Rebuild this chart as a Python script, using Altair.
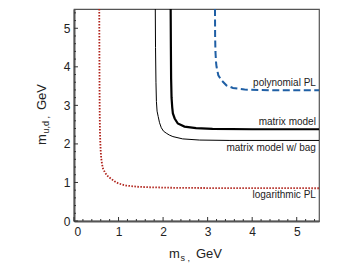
import altair as alt
import pandas as pd

# ---- data ----
log_x = [0.567, 0.570, 0.573, 0.577, 0.582, 0.590, 0.600, 0.612, 0.630, 0.652, 0.690, 0.730, 0.780, 0.840, 0.910, 0.990, 1.080, 1.170, 1.400, 1.700, 2.200, 3.000, 4.000, 5.500]
log_y = [5.50, 4.50, 3.50, 2.80, 2.35, 2.05, 1.80, 1.62, 1.47, 1.36, 1.27, 1.20, 1.14, 1.09, 1.03, 0.98, 0.945, 0.92, 0.89, 0.875, 0.862, 0.855, 0.852, 0.85]

bag_x = [1.825, 1.830, 1.840, 1.850, 1.865, 1.890, 1.920, 1.960, 2.010, 2.070, 2.140, 2.220, 2.440, 2.820, 3.500, 5.500]
bag_y = [5.50, 4.50, 3.60, 3.10, 2.85, 2.71, 2.55, 2.42, 2.33, 2.28, 2.23, 2.19, 2.13, 2.10, 2.09, 2.09]

mm_x = [2.170, 2.175, 2.180, 2.190, 2.205, 2.220, 2.260, 2.330, 2.480, 2.740, 3.110, 4.000, 5.500]
mm_y = [5.50, 4.50, 3.70, 3.20, 2.95, 2.79, 2.66, 2.53, 2.45, 2.41, 2.39, 2.38, 2.38]

poly_x = [3.165, 3.168, 3.175, 3.190, 3.200, 3.240, 3.310, 3.420, 3.570, 3.830, 4.500, 5.500]
poly_y = [5.50, 4.80, 4.40, 4.10, 4.00, 3.78, 3.65, 3.52, 3.45, 3.41, 3.39, 3.39]

label_text = ["polynomial PL", "matrix model", "matrix model w/ bag", "logarithmic PL"]
label_x = [5.43, 5.43, 5.43, 5.43]
label_y = [3.50, 2.48, 1.81, 0.60]

x_major = [0, 1, 2, 3, 4, 5]
x_minor = [0.2, 0.4, 0.6, 0.8, 1.2, 1.4, 1.6, 1.8, 2.2, 2.4, 2.6, 2.8,
           3.2, 3.4, 3.6, 3.8, 4.2, 4.4, 4.6, 4.8, 5.2, 5.4]
y_major = [0, 1, 2, 3, 4, 5]
y_minor = [0.2, 0.4, 0.6, 0.8, 1.2, 1.4, 1.6, 1.8, 2.2, 2.4, 2.6, 2.8,
           3.2, 3.4, 3.6, 3.8, 4.2, 4.4, 4.6, 4.8, 5.2, 5.4]

x_title = ["m", "s ,", "GeV"]
y_title = ["m", "u,d ,", "GeV"]

W, H = 245, 212
FONT = "Liberation Sans"

xs = alt.Scale(domain=[0, 5.5], nice=False, zero=False)
ys = alt.Scale(domain=[0, 5.5], nice=False, zero=False)
xax = alt.Axis(values=x_major, format="d", ticks=False, tickSize=0, labelPadding=5,
               title=None, grid=False, domainWidth=2, domainColor="#555",
               labelFont=FONT, labelFontSize=12, labelColor="#222")
yax = alt.Axis(values=y_major, format="d", ticks=False, tickSize=0, labelPadding=4,
               title=None, grid=False, domainWidth=2, domainColor="#555",
               labelFont=FONT, labelFontSize=12, labelColor="#222")


def curve(xv, yv):
    return pd.DataFrame({"x": xv, "y": yv, "i": list(range(len(xv)))})


def line(df, **kw):
    return alt.Chart(df).mark_line(clip=True, **kw).encode(
        x=alt.X("x:Q", scale=xs, axis=xax),
        y=alt.Y("y:Q", scale=ys, axis=yax),
        order="i:Q",
    )


red = line(curve(log_x, log_y), color="#b0221a", strokeWidth=1.8, strokeDash=[1.5, 1.5])
thin = line(curve(bag_x, bag_y), color="#000000", strokeWidth=1)
thick = line(curve(mm_x, mm_y), color="#000000", strokeWidth=2.2)
blue = line(curve(poly_x, poly_y), color="#1f5fa5", strokeWidth=2, strokeDash=[7, 3.5])

labels = alt.Chart(pd.DataFrame({"t": label_text, "x": label_x, "y": label_y})).mark_text(
    align="right", baseline="alphabetic", font=FONT, fontSize=10, color="#222"
).encode(
    x=alt.X("x:Q", scale=xs, axis=xax),
    y=alt.Y("y:Q", scale=ys, axis=yax),
    text="t:N",
)

# inward ticks
def xticks(vals, length):
    return alt.Chart(pd.DataFrame({"x": vals})).mark_rule(color="#333", strokeWidth=1).encode(
        x=alt.X("x:Q", scale=xs, axis=xax),
        y=alt.value(H), y2=alt.value(H - length),
    )


def yticks(vals, length):
    return alt.Chart(pd.DataFrame({"y": vals})).mark_rule(color="#333", strokeWidth=1).encode(
        y=alt.Y("y:Q", scale=ys, axis=yax),
        x=alt.value(0), x2=alt.value(length),
    )


one = pd.DataFrame({"a": [0]})

def piece(text, px, py, size, angle=0):
    return alt.Chart(one).mark_text(
        text=text, align="left", baseline="alphabetic", font=FONT,
        fontSize=size, color="#222", angle=angle
    ).encode(x=alt.value(px), y=alt.value(py))


titles = [
    piece(x_title[0], 95, 249, 13),
    piece(x_title[1], 106.5, 252, 9),
    piece(x_title[2], 122, 249, 13),
    piece(y_title[0], -28, 136, 13, 270),
    piece(y_title[1], -25, 124.5, 9, 270),
    piece(y_title[2], -28, 101, 13, 270),
]

chart = alt.layer(
    xticks(x_minor, 2), xticks(x_major, 4), yticks(y_minor, 2), yticks(y_major, 4),
    red, thin, thick, blue, labels, *titles
).properties(
    width=W, height=H,
    autosize=alt.AutoSizeParams(type="none"),
    padding={"left": 66, "top": 1, "right": 17, "bottom": 43},
).configure_view(
    stroke="#555", strokeWidth=1.2
)

chart.save("out.html", embed_options={"renderer": "svg", "actions": False})
